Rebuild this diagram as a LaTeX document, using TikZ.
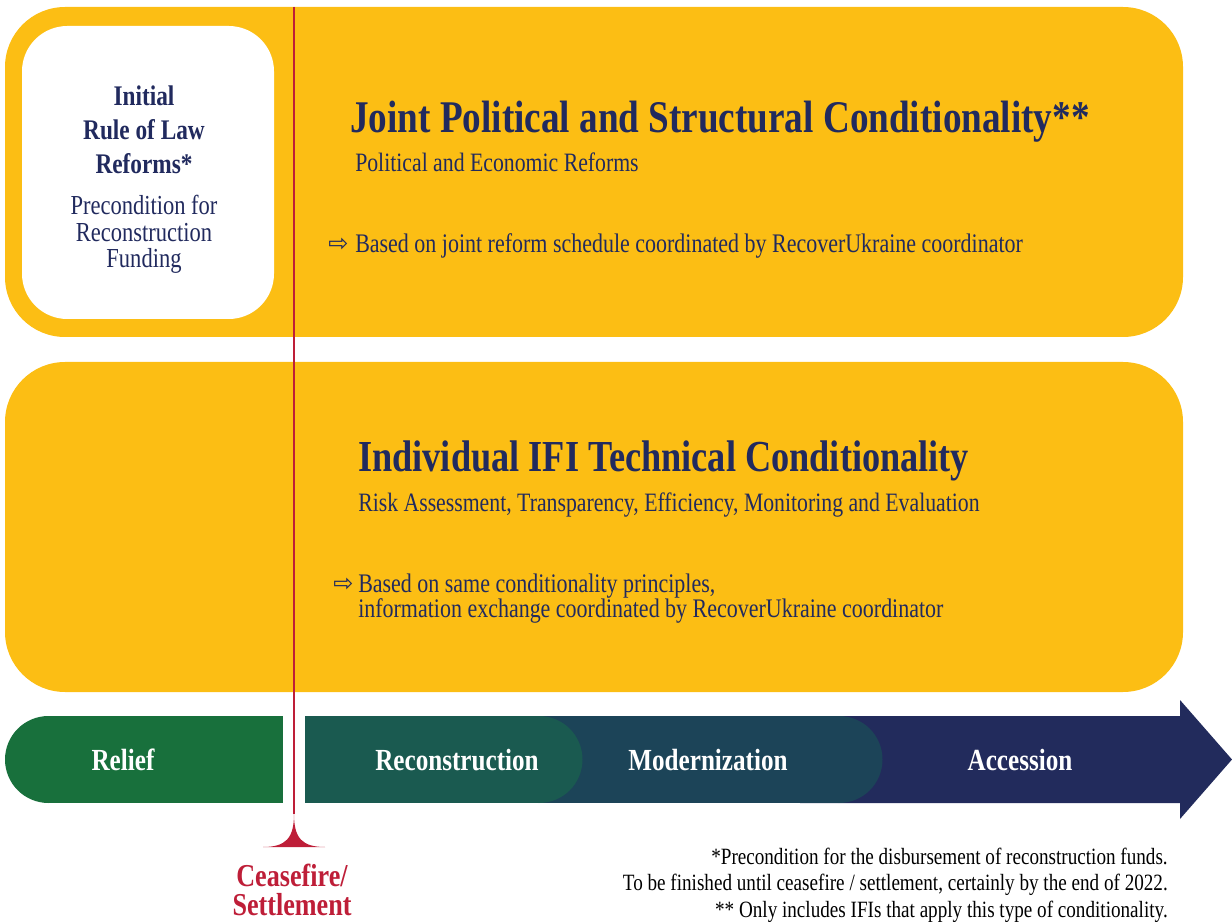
\documentclass[tikz,border=0pt]{standalone}
\usepackage{fontspec}
\setmainfont{Liberation Serif}[FakeStretch=0.82]
\newfontfamily\symfont{DejaVu Sans}
\definecolor{ukyellow}{RGB}{252,190,20}
\definecolor{uknavy}{RGB}{33,42,94}
\definecolor{ukred}{RGB}{190,30,56}
\definecolor{reliefgreen}{RGB}{24,112,60}
\definecolor{reconteal}{RGB}{26,90,80}
\definecolor{modblue}{RGB}{28,68,88}
\definecolor{accnavy}{RGB}{34,43,92}
\tikzset{
  ttl/.style={anchor=base west,text=uknavy,inner sep=0pt,font=\fontsize{34}{38}\selectfont\bfseries},
  sub/.style={anchor=base west,text=uknavy,inner sep=0pt,font=\fontsize{19.9}{23}\selectfont},
  hint/.style={anchor=base west,text=uknavy,inner sep=0pt,font=\fontsize{20.1}{21}\selectfont},
  arr/.style={anchor=base west,text=uknavy,inner sep=0pt,font=\symfont\fontsize{18}{18}\selectfont},
  barlbl/.style={anchor=base,text=white,inner sep=0pt,font=\fontsize{23}{26}\selectfont\bfseries},
  note/.style={anchor=base east,text=black,inner sep=0pt,font=\fontsize{17.5}{19}\selectfont}
}
\begin{document}
\begin{tikzpicture}[x=0.75pt,y=0.75pt,yscale=-1,xscale=1]
\useasboundingbox (0,0) rectangle (1232,923);

%Shape: Rounded Rect [id:joint]
\fill [ukyellow, rounded corners=45pt] (5,7) rectangle (1183,337) ;
%Shape: Rounded Rect [id:initial]
\fill [white, rounded corners=34pt] (22,26) rectangle (274,319) ;
%Shape: Rounded Rect [id:individual]
\fill [ukyellow, rounded corners=45pt] (5,362) rectangle (1183,692) ;

%Shape: Arrow [id:accession]
\fill [accnavy] (800,716) -- (1180,716) -- (1180,700) -- (1232,759.5) -- (1180,819) -- (1180,803) -- (800,803) -- cycle ;
%Shape: Bar [id:modernization]
\fill [modblue] (540,716) rectangle (839,803) ;
\fill [modblue] (839,759.5) circle (43.5) ;
%Shape: Bar [id:reconstruction]
\fill [reconteal] (305,716) rectangle (539,803) ;
\fill [reconteal] (539,759.5) circle (43.5) ;
%Shape: Bar [id:relief]
\fill [reliefgreen] (48.5,716) rectangle (283,803) ;
\fill [reliefgreen] (48.5,759.5) circle (43.5) ;

%Straight Lines [id:ceasefire]
\coordinate (ctop) at (294,7) ;
\coordinate (cfoot) at (294,814) ;
\draw [ukred, line width=1.5pt] (ctop) -- (cfoot) ;
\fill [ukred] (cfoot) .. controls (294,838) and (286,847) .. (263,847) -- (325,847) .. controls (302,847) and (294,838) .. (cfoot) -- cycle ;

% Text Node
\node (initial) [anchor=base,text=uknavy,align=center,inner sep=0pt,font=\fontsize{21.3}{25.5}\selectfont\bfseries] at (144,174) {Initial\\Rule of Law\\Reforms*};
% Text Node
\node (precond) [anchor=base,text=uknavy,align=center,inner sep=0pt,font=\fontsize{20.6}{20}\selectfont] at (144,268) {Precondition for\\Reconstruction\\Funding};

% Text Node
\node (joint) [ttl] at (350,133) {Joint Political and Structural Conditionality**};
% Text Node
\node (jointsub) [sub] at (355,172) {Political and Economic Reforms};
% Text Node
\node (arr1) [arr] at (328,252) {⇨};
% Text Node
\node (based1) [hint] at (355,253) {Based on joint reform schedule coordinated by RecoverUkraine coordinator};

% Text Node
\node (indiv) [ttl, font=\fontsize{33.2}{38}\selectfont\bfseries] at (358,472) {Individual IFI Technical Conditionality};
% Text Node
\node (indivsub) [sub] at (358,512) {Risk Assessment, Transparency, Efficiency, Monitoring and Evaluation};
% Text Node
\node (arr2) [arr] at (333,591) {⇨};
% Text Node
\node (based2) [hint] at (358,592) {Based on same conditionality principles,};
% Text Node
\node (based3) [hint] at (358,617) {information exchange coordinated by RecoverUkraine coordinator};

% Text Node
\node (relief) [barlbl] at (123,770) {Relief};
% Text Node
\node (recon) [barlbl] at (457,770) {Reconstruction};
% Text Node
\node (modern) [barlbl] at (708,770) {Modernization};
% Text Node
\node (access) [barlbl] at (1020,770) {Accession};

% Text Node
\node (cease) [anchor=base,text=ukred,align=center,inner sep=0pt,font=\fontsize{23.9}{21.75}\selectfont\bfseries] at (292,915) {Ceasefire/\\Settlement};

% Text Node
\node (note1) [note] at (1168,864) {*Precondition for the disbursement of reconstruction funds.};
% Text Node
\node (note2) [note] at (1168,890) {To be finished until ceasefire / settlement, certainly by the end of 2022.};
% Text Node
\node (note3) [note] at (1168,917) {** Only includes IFIs that apply this type of conditionality.};

\end{tikzpicture}
\end{document}
